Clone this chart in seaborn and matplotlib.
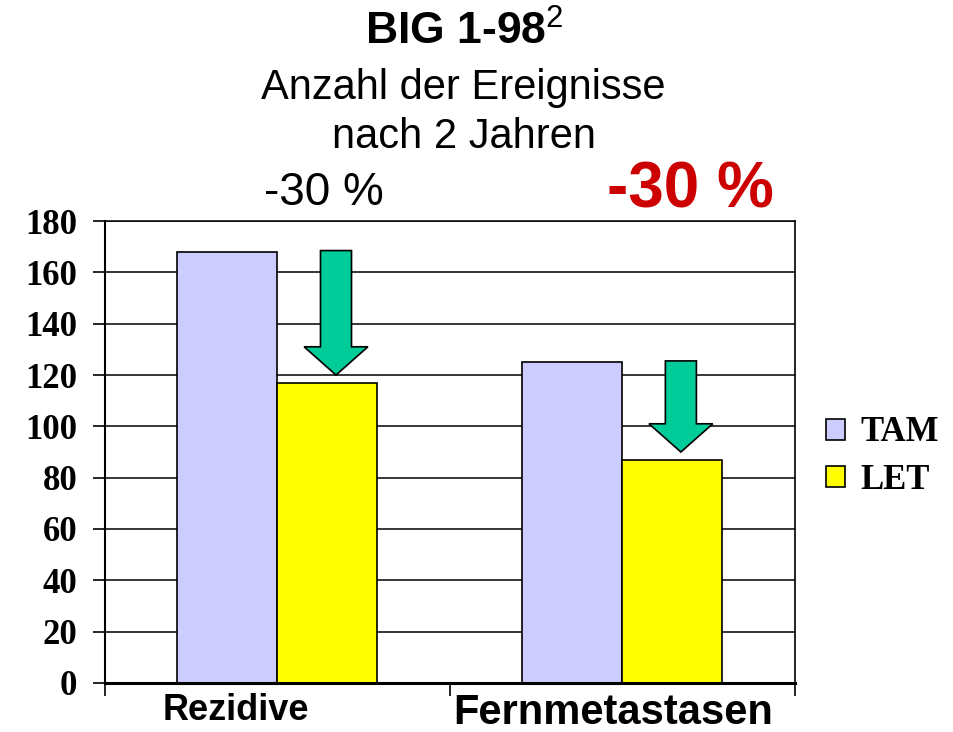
import matplotlib
matplotlib.use('Agg')
import matplotlib.pyplot as plt
import seaborn as sns
import pandas as pd
from matplotlib.patches import FancyArrow, Patch
from matplotlib.transforms import ScaledTranslation

# Data
categories = ['Rezidive', 'Fernmetastasen']
groups = ['TAM', 'LET']
tam_values = [168, 125]
let_values = [117, 87]
colors = ['#CCCCFF', '#FFFF00']
yticks = list(range(0, 181, 20))

df = pd.DataFrame({
    'Kategorie': categories * 2,
    'Therapie': ['TAM'] * 2 + ['LET'] * 2,
    'Anzahl': tam_values + let_values,
})

sns.set_style('white')
plt.rcParams['font.family'] = ['Liberation Sans', 'DejaVu Sans']
plt.rcParams['text.color'] = 'black'
plt.rcParams['xtick.color'] = 'black'
plt.rcParams['ytick.color'] = 'black'
plt.rcParams['axes.labelcolor'] = 'black'
plt.rcParams['mathtext.fontset'] = 'custom'
plt.rcParams['mathtext.rm'] = 'Liberation Sans'
plt.rcParams['mathtext.bf'] = 'Liberation Sans:bold'

fig = plt.figure(figsize=(9.54, 7.32), dpi=100)
ax = fig.add_axes([0.110, 0.067, 0.723, 0.631])

sns.barplot(data=df, x='Kategorie', y='Anzahl', hue='Therapie', order=categories,
            hue_order=groups, palette=colors, width=0.58, edgecolor='black',
            linewidth=1.2, saturation=1, legend=False, ax=ax)

ax.set_xlim(-0.5, 1.5)
ax.set_ylim(0, 180)
ax.set_xlabel('')
ax.set_ylabel('')

# gridlines behind bars
ax.set_yticks(yticks)
ax.yaxis.grid(True, color='black', lw=1.1)
ax.set_axisbelow(True)
ax.tick_params(axis='y', length=9, width=1.2, pad=11, labelsize=25, direction='out',
               left=True, colors='black')
for lab in ax.get_yticklabels():
    lab.set_fontfamily('Liberation Serif')
    lab.set_fontweight('bold')

# x ticks sit on category borders, labels in between
ax.set_xticks([-0.5, 0.5, 1.5])
ax.set_xticklabels([])
ax.set_xticks([0, 1], minor=True)
ax.set_xticklabels(categories, minor=True)
ax.tick_params(axis='x', which='major', length=9, width=1.2, direction='out',
               bottom=True, colors='black')
ax.tick_params(axis='x', which='minor', length=0, pad=7, colors='black')
label_sizes = [26, 30]
label_shift = [-0.42, -0.09]
for lab, s, dx in zip(ax.get_xticklabels(minor=True), label_sizes, label_shift):
    lab.set_fontsize(s)
    lab.set_fontweight('bold')
    lab.set_transform(lab.get_transform() + ScaledTranslation(dx, 0, fig.dpi_scale_trans))

for side, lw in [('bottom', 2.2), ('left', 1.5), ('right', 1.2), ('top', 1.1)]:
    ax.spines[side].set_visible(True)
    ax.spines[side].set_color('black')
    ax.spines[side].set_linewidth(lw)

# reduction arrows from TAM level down to LET bar
for i in range(len(categories)):
    top = tam_values[i] + 0.5
    tip = let_values[i] + 3
    arr = FancyArrow(i + 0.17, top, 0, tip - top, width=0.09, head_width=0.185,
                     head_length=11, length_includes_head=True,
                     fc='#00CC99', ec='black', lw=1.2, zorder=4)
    ax.add_patch(arr)

handles = [Patch(facecolor=c, edgecolor='black', lw=1.2) for c in colors]
fig.legend(handles, groups, loc='center left', bbox_to_anchor=(826 / 954, 0.376),
           frameon=False, prop={'family': 'Liberation Serif', 'weight': 'bold', 'size': 25},
           handlelength=0.55, handleheight=0.55, handletextpad=0.43, labelspacing=0.42,
           borderpad=0, borderaxespad=0)

# titles
fig.text(0.487, 0.9385, r'BIG 1-98$^\mathrm{2}$', ha='center', va='baseline',
         fontsize=32, fontweight='bold')
fig.text(0.486, 0.865, 'Anzahl der Ereignisse', ha='center', va='baseline', fontsize=30)
fig.text(0.486, 0.798, 'nach 2 Jahren', ha='center', va='baseline', fontsize=30)
fig.text(0.339, 0.72, '-30 %', ha='center', va='baseline', fontsize=33)
fig.text(0.724, 0.716, '-30 %', ha='center', va='baseline', fontsize=46,
         fontweight='bold', color='#CC0000')

fig.savefig('out.png', dpi=100)
